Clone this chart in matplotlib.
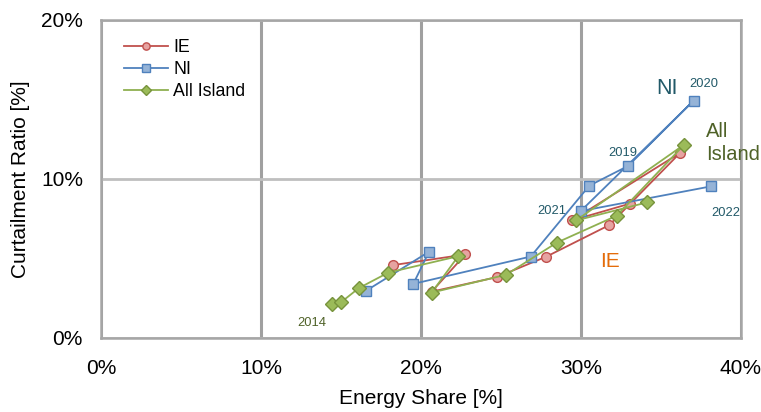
import matplotlib
matplotlib.use("Agg")
import matplotlib.pyplot as plt
from matplotlib.ticker import FuncFormatter, MultipleLocator

plt.rcParams["font.family"] = ["Liberation Sans", "DejaVu Sans"]

# Energy share (x, %) and curtailment ratio (y, %) per series
ie_share = [18.25, 22.77, 20.67, 24.73, 27.83, 31.77, 36.19, 29.42, 33.06]
ie_curt = [4.57, 5.24, 2.90, 3.81, 5.10, 7.09, 11.63, 7.38, 8.44]

ni_share = [16.56, 20.50, 19.52, 26.86, 30.52, 32.94, 37.04, 29.98, 38.14]
ni_curt = [2.95, 5.41, 3.39, 5.11, 9.57, 10.81, 14.92, 7.97, 9.53]

ai_share = [14.42, 15.00, 16.11, 17.96, 22.33, 20.67, 25.31, 28.50, 32.23, 36.46, 29.69, 34.14]
ai_curt = [2.13, 2.23, 3.12, 4.10, 5.13, 2.84, 3.96, 5.99, 7.68, 12.16, 7.38, 8.52]

series_names = ["IE", "NI", "All Island"]

# Year labels placed beside the NI points (and the first All Island point)
year_labels = ["2019", "2020", "2021", "2022"]
year_pos = [(32.6, 11.65), (37.7, 16.0), (28.2, 8.0), (39.06, 7.87)]
first_label = "2014"
first_pos = (13.2, 0.93)

fig = plt.figure(figsize=(7.61, 4.12), dpi=100)
ax = fig.add_axes([0.1327, 0.1803, 0.8410, 0.7712])

ax.plot(ie_share, ie_curt, color="#c0504d", lw=1.3, marker="o", ms=7,
        mfc="#e6a3a1", mec="#c0504d", mew=1.0, label=series_names[0], zorder=3)
ax.plot(ni_share, ni_curt, color="#4f81bd", lw=1.3, marker="s", ms=7,
        mfc="#95b3d7", mec="#4f81bd", mew=1.0, label=series_names[1], zorder=4)
ax.plot(ai_share, ai_curt, color="#8fb050", lw=1.3, marker="D", ms=6.8,
        mfc="#9bbb59", mec="#77933c", mew=1.0, label=series_names[2], zorder=5)

ax.set_xlim(0, 40)
ax.set_ylim(0, 20)
ax.xaxis.set_major_locator(MultipleLocator(10))
ax.yaxis.set_major_locator(MultipleLocator(10))
pct = FuncFormatter(lambda v, p: f"{v:.0f}%")
ax.xaxis.set_major_formatter(pct)
ax.yaxis.set_major_formatter(pct)
ax.tick_params(axis="both", length=0, labelsize=15, colors="black")
ax.tick_params(axis="x", pad=15)
ax.tick_params(axis="y", pad=13)

for s in ax.spines.values():
    s.set_color("#a6a6a6")
    s.set_linewidth(1.8)

ax.xaxis.grid(True, color="#a0a0a0", lw=2.2)
ax.yaxis.grid(True, color="#bfbfbf", lw=2.0)
ax.set_axisbelow(True)

ax.set_xlabel("Energy Share [%]", fontsize=15, labelpad=8)
ax.set_ylabel("Curtailment Ratio [%]", fontsize=15, labelpad=8)

leg = ax.legend(loc="upper left", bbox_to_anchor=(0.016, 0.98), frameon=False,
                fontsize=12.8, handlelength=2.5, handletextpad=0.3,
                labelspacing=0.3, markerscale=0.75, borderaxespad=0.3)

teal = "#215968"
olive = "#4f6228"
ax.text(35.4, 15.69, "NI", color=teal, fontsize=15.5, ha="center", va="center")
ax.text(37.8, 12.27, "All\nIsland", color=olive, fontsize=14.5, ha="left",
        va="center", linespacing=1.25)
ax.text(31.8, 4.78, "IE", color="#e46c0a", fontsize=15, ha="center", va="center")

for lab, (x, y) in zip(year_labels, year_pos):
    ax.text(x, y, lab, color=teal, fontsize=9.3, ha="center", va="center")
ax.text(first_pos[0], first_pos[1], first_label, color=olive, fontsize=9.3,
        ha="center", va="center")

fig.savefig("out.png", dpi=100)
